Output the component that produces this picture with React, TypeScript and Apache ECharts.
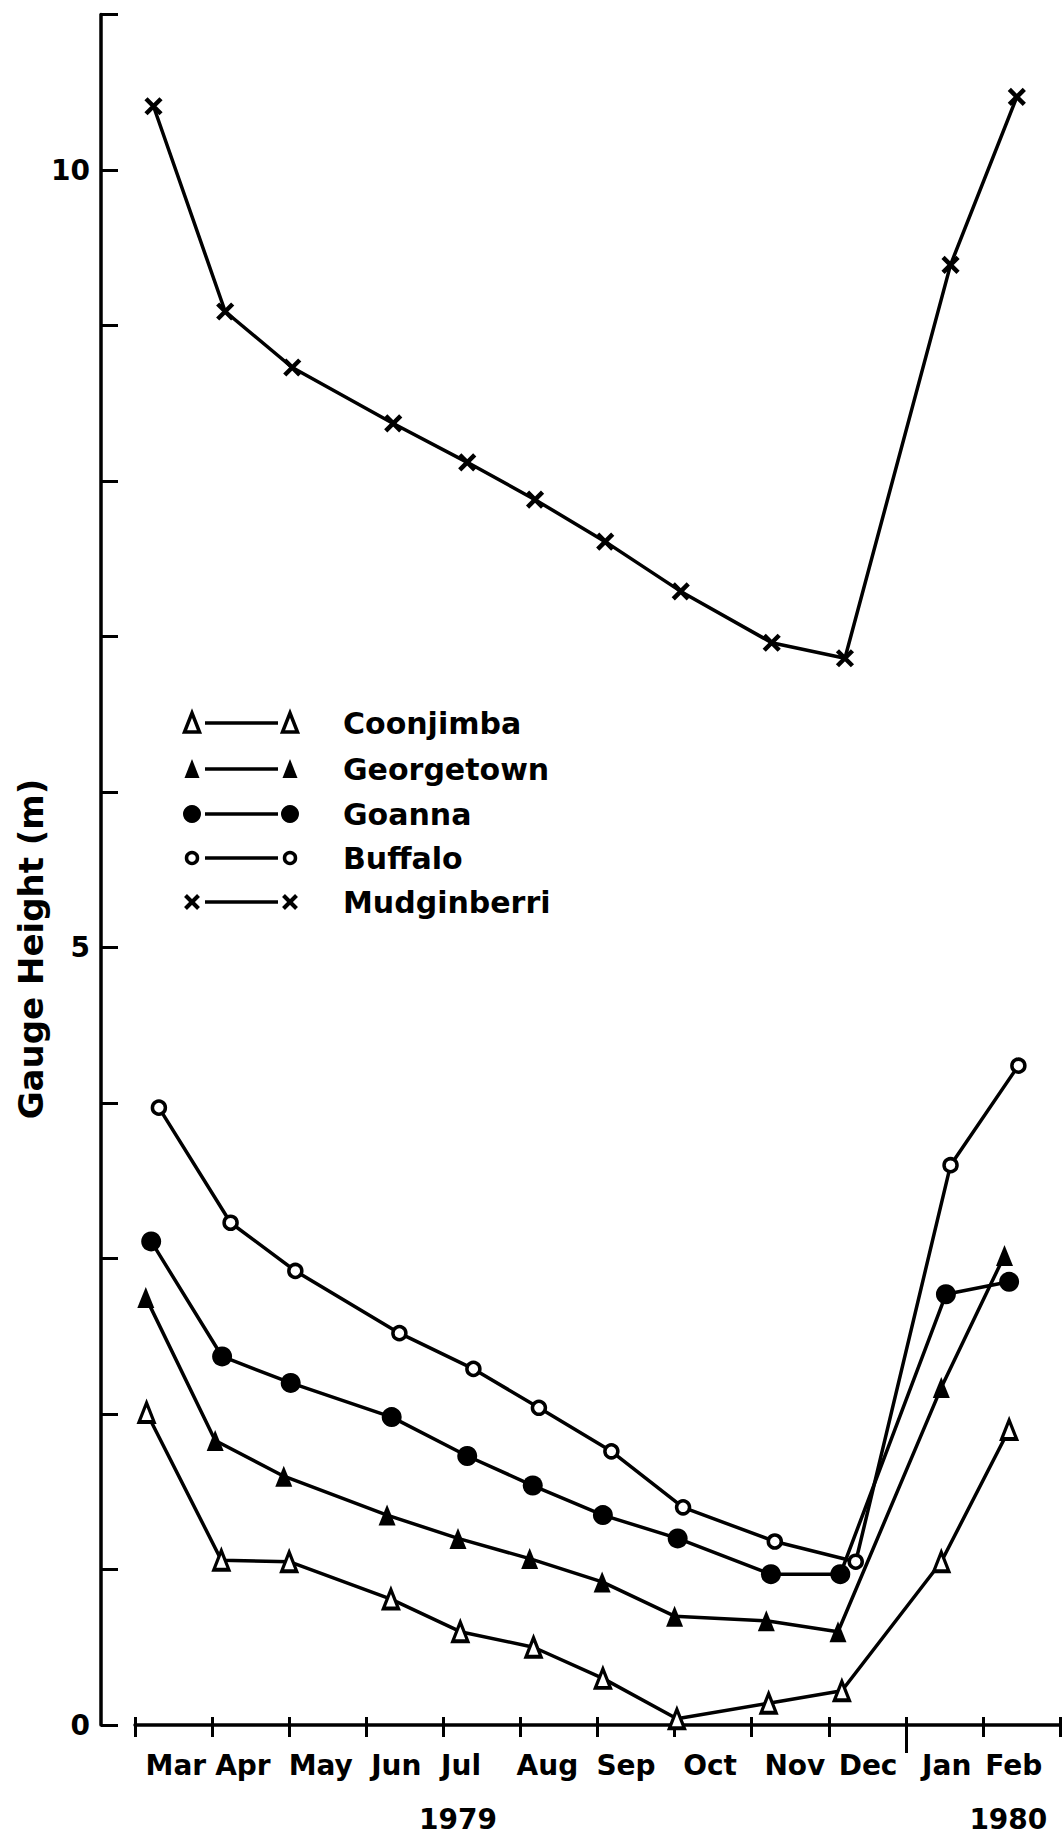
import React, { useEffect, useRef } from 'react';
import * as echarts from 'echarts';

// ---- Data (x = months since 1 Mar 1979, y = gauge height in m) ----
const months = ['Mar', 'Apr', 'May', 'Jun', 'Jul', 'Aug', 'Sep', 'Oct', 'Nov', 'Dec', 'Jan', 'Feb'];
const monthLabelPos = [0.53, 1.40, 2.41, 3.39, 4.23, 5.35, 6.37, 7.46, 8.56, 9.51, 10.53, 11.40];
const years = ['1979', '1980'];
const yearLabelPos = [4.19, 11.33];
const yearBoundary = [10];
const yLabelValues = [0, 5, 10];

const coonjimbaX = [0.15, 1.12, 2.0, 3.32, 4.22, 5.17, 6.07, 7.03, 8.22, 9.17, 10.46, 11.34];
const coonjimbaY = [2.01, 1.06, 1.05, 0.81, 0.6, 0.5, 0.3, 0.04, 0.14, 0.22, 1.05, 1.9];
const georgetownX = [0.14, 1.04, 1.93, 3.27, 4.19, 5.12, 6.06, 7.0, 8.19, 9.12, 10.46, 11.28];
const georgetownY = [2.75, 1.83, 1.6, 1.35, 1.2, 1.07, 0.92, 0.7, 0.67, 0.6, 2.17, 3.02];
const goannaX = [0.21, 1.13, 2.02, 3.33, 4.31, 5.16, 6.07, 7.04, 8.25, 9.15, 10.52, 11.34];
const goannaY = [3.11, 2.37, 2.2, 1.98, 1.73, 1.54, 1.35, 1.2, 0.97, 0.97, 2.77, 2.85];
const buffaloX = [0.31, 1.24, 2.08, 3.43, 4.39, 5.24, 6.18, 7.11, 8.3, 9.35, 10.58, 11.46];
const buffaloY = [3.97, 3.23, 2.92, 2.52, 2.29, 2.04, 1.76, 1.4, 1.18, 1.05, 3.6, 4.24];
const mudginberriX = [0.24, 1.17, 2.04, 3.35, 4.31, 5.19, 6.1, 7.08, 8.26, 9.21, 10.58, 11.44];
const mudginberriY = [10.41, 9.09, 8.73, 8.37, 8.12, 7.88, 7.61, 7.29, 6.96, 6.86, 9.39, 10.47];

const legendNames = ['Coonjimba', 'Georgetown', 'Goanna', 'Buffalo', 'Mudginberri'];

const FONT = 'DejaVu Sans';
const BLACK = '#000';
const X_SYMBOL = 'path://M0,0L10,10M10,0L0,10';

function zip(xs: number[], ys: number[]) {
  return xs.map((x, i) => [x, ys[i]]);
}

function lineSeries(name: string, xs: number[], ys: number[], symbol: string, size: any, fill: string, border: number) {
  return {
    type: 'line',
    name,
    data: zip(xs, ys),
    symbol,
    symbolSize: size,
    showSymbol: true,
    showAllSymbol: true,
    clip: false,
    lineStyle: { color: BLACK, width: 3.5 },
    itemStyle: { color: fill, borderColor: BLACK, borderWidth: border },
    emphasis: { disabled: true },
  };
}

function legendGraphics() {
  const rowsY = [723, 769, 814, 858, 902];
  const xl = 192;
  const xr = 290;
  const els: any[] = [];
  rowsY.forEach((y, i) => {
    els.push({ type: 'line', shape: { x1: 205, y1: y, x2: 278, y2: y }, style: { stroke: BLACK, lineWidth: 3.5 }, z: 10 });
    [xl, xr].forEach((cx) => {
      if (i === 0 || i === 1) {
        els.push({
          type: 'polygon',
          shape: { points: [[cx - 7.5, y + 9], [cx + 7.5, y + 9], [cx, y - 10]] },
          style: i === 0 ? { fill: '#fff', stroke: BLACK, lineWidth: 3.5 } : { fill: BLACK },
          z: 11,
        });
      } else if (i === 2) {
        els.push({ type: 'circle', shape: { cx, cy: y, r: 9 }, style: { fill: BLACK }, z: 11 });
      } else if (i === 3) {
        els.push({ type: 'circle', shape: { cx, cy: y, r: 5.5 }, style: { fill: '#fff', stroke: BLACK, lineWidth: 3.5 }, z: 11 });
      } else {
        els.push({ type: 'line', shape: { x1: cx - 6.5, y1: y - 6.5, x2: cx + 6.5, y2: y + 6.5 }, style: { stroke: BLACK, lineWidth: 4 }, z: 11 });
        els.push({ type: 'line', shape: { x1: cx + 6.5, y1: y - 6.5, x2: cx - 6.5, y2: y + 6.5 }, style: { stroke: BLACK, lineWidth: 4 }, z: 11 });
      }
    });
    els.push({
      type: 'text',
      x: 343,
      y,
      style: { text: legendNames[i], fill: BLACK, font: `bold 30px "${FONT}"`, align: 'left', verticalAlign: 'middle' },
      z: 11,
    });
  });
  els.push({
    type: 'text',
    x: 31,
    y: 949,
    rotation: Math.PI / 2,
    style: { text: 'Gauge Height (m)', fill: BLACK, font: `600 34px "${FONT}"`, align: 'center', verticalAlign: 'middle' },
    z: 11,
  });
  return els;
}

const labelFont = { color: BLACK, fontFamily: FONT, fontWeight: 'bold' as const, fontSize: 28 };

function pick(values: number[], names: string[], v: number) {
  const i = values.findIndex((p) => Math.abs(p - v) < 1e-6);
  return i >= 0 ? names[i] : '';
}

const baseX = {
  type: 'value',
  min: 0,
  max: 12,
  position: 'bottom',
  splitLine: { show: false },
};

export default function App() {
  const ref = useRef<HTMLDivElement>(null);
  useEffect(() => {
    if (!ref.current) return;
    const chart = echarts.init(ref.current, undefined, { renderer: 'svg' });
    chart.setOption({
      animation: false,
      backgroundColor: '#fff',
      grid: { left: 135, right: 3, top: 14.5, bottom: 115, containLabel: false, outerBoundsMode: 'none' },
      xAxis: [
        {
          ...baseX,
          interval: 1,
          axisLine: { show: true, onZero: false, lineStyle: { color: BLACK, width: 3.5 } },
          axisTick: { show: true, length: 12, lineStyle: { color: BLACK, width: 3 } },
          axisLabel: { show: false },
        },
        {
          ...baseX,
          interval: 1,
          axisLine: { show: false, onZero: false },
          axisTick: { show: true, inside: true, length: 8, lineStyle: { color: BLACK, width: 3 } },
          axisLabel: { show: false },
        },
        {
          ...baseX,
          axisLine: { show: false, onZero: false },
          axisTick: { show: false },
          axisLabel: {
            ...labelFont,
            margin: 26,
            customValues: monthLabelPos,
            formatter: (v: number) => pick(monthLabelPos, months, v),
          },
        },
        {
          ...baseX,
          axisLine: { show: false, onZero: false },
          axisTick: { show: false },
          axisLabel: {
            ...labelFont,
            margin: 80,
            customValues: yearLabelPos,
            formatter: (v: number) => pick(yearLabelPos, years, v),
          },
        },
        {
          ...baseX,
          axisLine: { show: false, onZero: false },
          axisTick: { show: true, length: 28, customValues: yearBoundary, lineStyle: { color: BLACK, width: 3 } },
          axisLabel: { show: false },
        },
      ],
      yAxis: {
        type: 'value',
        min: 0,
        max: 11,
        interval: 1,
        offset: 34,
        axisLine: { show: true, onZero: false, lineStyle: { color: BLACK, width: 3.5 } },
        axisTick: { show: true, inside: true, length: 17, lineStyle: { color: BLACK, width: 3 } },
        splitLine: { show: false },
        axisLabel: {
          ...labelFont,
          margin: 11,
          formatter: (v: number) => (yLabelValues.indexOf(v) >= 0 ? String(v) : ''),
        },
      },
      series: [
        lineSeries('Coonjimba', coonjimbaX, coonjimbaY, 'triangle', [15, 19], '#fff', 3.5),
        lineSeries('Georgetown', georgetownX, georgetownY, 'triangle', [17, 21], BLACK, 0),
        lineSeries('Goanna', goannaX, goannaY, 'circle', 20, BLACK, 0),
        lineSeries('Buffalo', buffaloX, buffaloY, 'circle', 13, '#fff', 3.5),
        lineSeries('Mudginberri', mudginberriX, mudginberriY, X_SYMBOL, 15, BLACK, 4.5),
      ],
      graphic: { elements: legendGraphics() },
    });
    return () => chart.dispose();
  }, []);
  return (
    <div
      ref={ref}
      style={{ position: 'absolute', left: 0, top: 0, width: 1063, height: 1840, background: '#fff' }}
    />
  );
}
